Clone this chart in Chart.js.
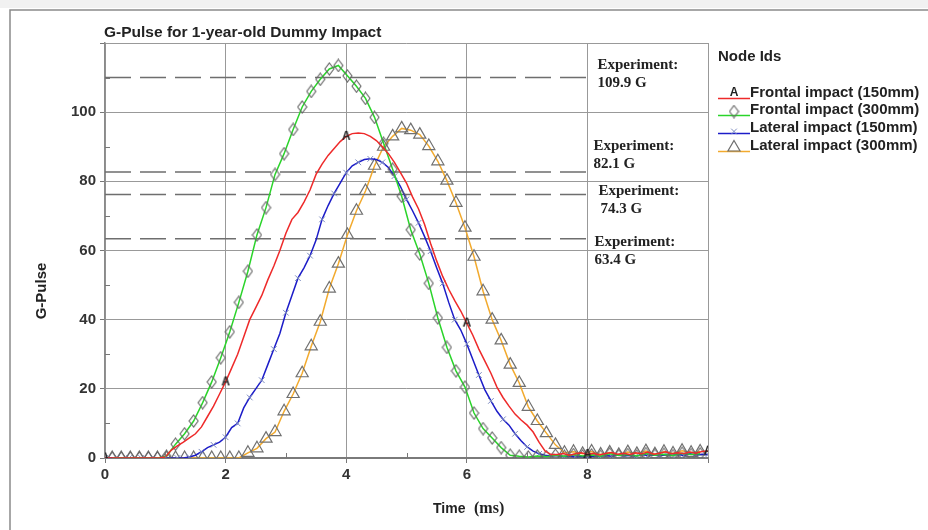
<!DOCTYPE html>
<html>
<head>
<meta charset="utf-8">
<script src="https://cdn.jsdelivr.net/npm/chart.js@4/dist/chart.umd.min.js"></script>
<style>
  html, body { margin: 0; padding: 0; background: #fff; }
  #gpulse { display: block; }
</style>
</head>
<body>
<canvas id="gpulse" width="928" height="530"></canvas>
<script>
// time bases (ms): fine traces every 0.1 ms, marker traces every 0.15 ms
var tFine = Array.from({length: 101}, function (_, i) { return i / 10; });
var tCoarse = Array.from({length: 66}, function (_, i) { return +(0.12 + 0.15 * i).toFixed(2); });

var seriesNames = ["Frontal impact (150mm)", "Frontal impact (300mm)", "Lateral impact (150mm)", "Lateral impact (300mm)"];

// G
var frontal150 = [0, 0, 0, 0, 0, 0, 0, 0, 0, 0,
  0.3,
  2.3, 3.5, 4.6, 5.8, 7, 9, 12, 15, 18.5,
  22, 26, 30, 35, 40, 43.5, 47, 51.5, 55.5, 60,
  65, 69, 71, 74, 77.5, 82, 85, 87.5, 89.5, 91.5,
  93, 93.8, 94, 93.8, 93, 91.8, 90, 88, 85.5, 82.5,
  79.5, 75.5, 72, 67.5, 62, 57, 52.5, 48.8, 45.5, 42.5,
  39, 35.5, 31.5, 28, 24.5, 20.5, 17.5, 15, 12.7, 11,
  9.5, 7.5, 4.5, 2, 1,
  1, 1.3, 0.8, 1.2, 1.5, 1, 1.4, 0.9, 1.3, 1.6, 1.1, 1.4, 1, 1.5, 1.2, 1.7, 1.1, 1.4, 1.8, 1.2, 1.5, 1.3, 1.7, 1.4, 1.9, 2];

var lateral150 = [0, 0, 0, 0, 0, 0, 0, 0, 0, 0, 0, 0, 0, 0,
  0.3, 0.8, 1.8, 3, 3.8, 4.6,
  6, 8.8, 10, 14.5, 17.5, 20, 22.5, 27, 31.5, 36,
  42, 47, 52, 55, 58.5, 63, 69, 73, 76.5, 79.5,
  82.5, 84.5, 85.5, 86.3, 86.5, 86.3, 85.5, 84, 81.5, 78.5,
  74.8, 71.5, 68, 64, 59.8, 55, 50.5, 45, 40, 37,
  33, 28.5, 24, 19.7, 16.5, 13.5, 11.2, 9.5, 7, 5,
  3.2, 2, 1.2,
  0.8, 0.5, 0.7, 0.4, 0.6, 0.3, 0.5, 0.2, 0.6, 0.4, 0.7, 0.5, 0.9, 0.6, 0.8, 0.5, 1, 0.7, 0.9, 0.6, 1.1, 0.8, 1, 0.7, 1.2, 0.9, 1.1, 1];

var frontal300 = [0, 0, 0, 0, 0, 0,
  0.5, 4, 7, 10.7, 16, 22, 29, 36.5, 45, 54,
  64.5, 72.4, 82, 88, 95, 101.5, 106, 109.5, 112.5, 113.5,
  110.5, 107.5, 104, 98.5, 91, 83.5, 75.7, 66, 59, 50.5,
  40.5, 32, 25.2, 20.5, 13, 8.5, 5.8, 3, 0.8,
  0.5, 0.3, 0.6, 0.4, 0.8, 0.5, 1, 0.6, 0.9, 0.5, 1.2, 0.7, 1, 0.6, 1.3, 0.8, 1.1, 0.7, 1.4, 1, 1.2];

var lateral300 = [0, 0, 0, 0, 0, 0, 0, 0, 0, 0, 0, 0, 0, 0, 0,
  1.5, 2.8, 5.6, 7.5, 13.5, 18.5, 24.5, 32.3, 39.4, 49,
  56.2, 64.5, 71.5, 77.2, 84.5, 90, 93, 95.3, 94.8, 93.5,
  90.2, 85.8, 80.2, 73.8, 66.6, 58.2, 48.2, 40, 34, 27,
  21.7, 14.8, 10.7, 7.2, 3.8,
  1.5, 1.8, 1.2, 1.9, 1, 1.6, 0.9, 1.7, 1.2, 2, 1.1, 1.8, 1.3, 2.1, 1.5, 1.9];

// experimental peaks (dashed lines) and their labels
var expLevels = [110, 82.7, 76.2, 63.4];
var expLabels = ["109.9 G", "82.1 G", "74.3 G", "63.4 G"];
var expEnd = 8;

var xTicks = [0, 2, 4, 6, 8];
var yTicks = [0, 20, 40, 60, 80, 100];

function pts(ts, vs) {
  return vs.map(function (v, i) { return {x: ts[i], y: v}; });
}

// letter "A" marker used by the frontal 150mm trace
var aMark = document.createElement('canvas');
aMark.width = 12; aMark.height = 13;
(function () {
  var c = aMark.getContext('2d');
  c.font = 'bold 12px "Liberation Sans", Arial, sans-serif';
  c.fillStyle = '#222';
  c.textAlign = 'center';
  c.textBaseline = 'middle';
  c.fillText('A', 6, 7);
})();

// tall hollow diamond used by the frontal 300mm trace
var diamond = document.createElement('canvas');
diamond.width = 11; diamond.height = 14;
(function () {
  var c = diamond.getContext('2d');
  c.strokeStyle = '#666';
  c.lineWidth = 1.1;
  c.beginPath();
  c.moveTo(5.5, 1); c.lineTo(10, 7); c.lineTo(5.5, 13); c.lineTo(1, 7); c.closePath();
  c.stroke();
})();

var datasets = [
  {
    label: seriesNames[0], data: pts(tFine, frontal150),
    borderColor: '#ee2a2a', borderWidth: 1.5, tension: 0,
    pointStyle: aMark,
    pointRadius: function (c) { return c.dataIndex % 20 === 0 ? 5 : 0; },
    order: 1
  },
  {
    label: seriesNames[1], data: pts(tCoarse, frontal300),
    borderColor: '#2ad42a', borderWidth: 1.5, tension: 0,
    pointStyle: diamond, pointRadius: 5,
    order: 1
  },
  {
    label: seriesNames[2], data: pts(tFine, lateral150),
    borderColor: '#1c1cc8', borderWidth: 1.5, tension: 0,
    pointStyle: 'crossRot',
    pointRadius: function (c) { return c.dataIndex % 2 === 0 ? 4 : 0; },
    pointBorderWidth: 1, pointBorderColor: '#7d8cc0',
    order: 1
  },
  {
    label: seriesNames[3], data: pts(tCoarse, lateral300),
    borderColor: '#f2aa2e', borderWidth: 1.5, tension: 0,
    pointStyle: 'triangle', pointRadius: 7, pointBorderWidth: 1.2,
    pointBorderColor: '#707070', pointBackgroundColor: 'rgba(255,255,255,0)',
    order: 1
  }
];

expLevels.forEach(function (v) {
  datasets.push({
    label: 'exp', data: [{x: 0, y: v}, {x: expEnd, y: v}],
    borderColor: '#6e6e6e', borderWidth: 1.5, borderDash: [26, 9],
    pointRadius: 0, order: 10
  });
});

var frame = {
  id: 'frame',
  beforeDraw: function (chart) {
    var ctx = chart.ctx;
    ctx.save();
    ctx.fillStyle = '#fff';
    ctx.fillRect(0, 0, chart.width, chart.height);
    ctx.fillStyle = '#f1f1f1';
    ctx.fillRect(0, 0, chart.width, 8);
    ctx.strokeStyle = '#8a8a8a';
    ctx.lineWidth = 1.5;
    ctx.beginPath();
    ctx.moveTo(10, chart.height);
    ctx.lineTo(10, 10);
    ctx.lineTo(chart.width, 10);
    ctx.stroke();
    ctx.restore();
  },
  afterDraw: function (chart) {
    var ctx = chart.ctx, xs = chart.scales.x, ys = chart.scales.y, a = chart.chartArea;
    ctx.save();
    // minor ticks inside the plot
    ctx.strokeStyle = '#777';
    ctx.lineWidth = 1;
    ctx.beginPath();
    for (var g = 10; g < 120; g += 20) {
      var py = Math.round(ys.getPixelForValue(g)) + 0.5;
      ctx.moveTo(a.left, py); ctx.lineTo(a.left + 5, py);
    }
    for (var t = 1; t < 10; t += 2) {
      var px = Math.round(xs.getPixelForValue(t)) + 0.5;
      ctx.moveTo(px, a.bottom); ctx.lineTo(px, a.bottom - 5);
    }
    ctx.stroke();

    // title
    ctx.fillStyle = '#222';
    ctx.font = 'bold 15.5px "Liberation Sans", Arial, sans-serif';
    ctx.textAlign = 'left';
    ctx.textBaseline = 'alphabetic';
    ctx.fillText('G-Pulse for 1-year-old Dummy Impact', a.left - 1, 37);

    // axis titles
    ctx.font = 'bold 14px "Liberation Sans", Arial, sans-serif';
    ctx.fillText('Time', 433, 513);
    ctx.font = 'bold 16px "Liberation Serif", "Times New Roman", serif';
    ctx.fillText('(ms)', 474, 513);
    ctx.save();
    ctx.translate(46, 291);
    ctx.rotate(-Math.PI / 2);
    ctx.textAlign = 'center';
    ctx.font = 'bold 15px "Liberation Sans", Arial, sans-serif';
    ctx.fillText('G-Pulse', 0, 0);
    ctx.restore();

    // experiment labels
    var offs = [[10, -8.5], [6, -21.7], [11, 1], [7, 7]];
    ctx.font = 'bold 15px "Liberation Serif", "Times New Roman", serif';
    ctx.fillStyle = '#222';
    expLevels.forEach(function (v, i) {
      var x0 = xs.getPixelForValue(expEnd) + offs[i][0];
      var y0 = ys.getPixelForValue(v) + offs[i][1];
      ctx.fillText('Experiment:', x0, y0);
      ctx.fillText(expLabels[i], x0 + (i === 2 ? 2 : 0), y0 + 18);
    });

    // legend
    ctx.font = 'bold 15px "Liberation Sans", Arial, sans-serif';
    ctx.fillText('Node Ids', 718, 61);
    var rowY = [97, 114, 132, 150];
    ctx.font = 'bold 15px "Liberation Sans", Arial, sans-serif';
    for (var i = 0; i < 4; i++) {
      var ds = chart.data.datasets[i];
      var ly = rowY[i] + 1.5;
      ctx.strokeStyle = ds.borderColor;
      ctx.lineWidth = 1.5;
      ctx.beginPath(); ctx.moveTo(718, ly); ctx.lineTo(750, ly); ctx.stroke();
      ctx.strokeStyle = ds.pointBorderColor || '#222';
      ctx.fillStyle = 'rgba(255,255,255,0)';
      ctx.lineWidth = ds.pointBorderWidth || 1;
      var my = [ly - 6, ly - 4, ly - 2, ly - 4][i];
      Chart.helpers.drawPoint(ctx, {
        pointStyle: ds.pointStyle, radius: [5, 5, 4, 7][i], rotation: 0, borderWidth: ctx.lineWidth
      }, 734, my);
      ctx.fillStyle = '#222';
      ctx.fillText(ds.label, 750, rowY[i]);
    }
    ctx.restore();
  }
};

new Chart('gpulse', {
  type: 'line',
  data: {datasets: datasets},
  options: {
    responsive: false,
    animation: false,
    devicePixelRatio: 1,
    layout: {padding: {top: 43, right: 220, left: 0, bottom: 0}},
    plugins: {legend: {display: false}, tooltip: {enabled: false}},
    scales: {
      x: {
        type: 'linear', min: 0, max: 10,
        afterFit: function (s) { s.height = 72; },
        afterBuildTicks: function (s) { s.ticks = xTicks.concat([10]).map(function (v) { return {value: v}; }); },
        ticks: {
          color: '#333', padding: 3,
          font: {family: '"Liberation Sans", Arial, sans-serif', size: 15, weight: 'bold'},
          callback: function (v) { return xTicks.indexOf(v) >= 0 ? String(v) : ''; }
        },
        grid: {color: '#999', tickLength: 5, tickColor: '#777'},
        border: {color: '#7a7a7a', width: 2}
      },
      y: {
        min: 0, max: 120,
        afterFit: function (s) { s.width = 105; },
        afterBuildTicks: function (s) { s.ticks = yTicks.concat([120]).map(function (v) { return {value: v}; }); },
        ticks: {
          color: '#333', padding: 4,
          font: {family: '"Liberation Sans", Arial, sans-serif', size: 15, weight: 'bold'},
          callback: function (v) { return yTicks.indexOf(v) >= 0 ? String(v) : ''; }
        },
        grid: {color: '#999', tickLength: 5, tickColor: '#777'},
        border: {color: '#8a8a8a', width: 1.5}
      }
    }
  },
  plugins: [frame]
});
</script>
</body>
</html>
